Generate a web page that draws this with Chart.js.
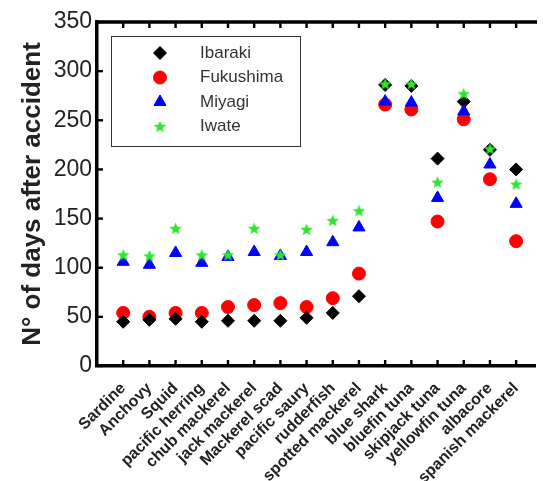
<!DOCTYPE html>
<html>
<head>
<meta charset="utf-8">
<script src="https://cdn.jsdelivr.net/npm/chart.js@4.4.1/dist/chart.umd.min.js"></script>
<style>
  html, body { margin: 0; padding: 0; background: #fff; overflow: hidden; }
</style>
</head>
<body>
<canvas id="daysChart" width="543" height="481"></canvas>
<script>
// species on the x axis
const species = ['Sardine', 'Anchovy', 'Squid', 'pacific herring', 'chub mackerel', 'jack mackerel',
  'Mackerel scad', 'pacific saury', 'rudderfish', 'spotted mackerel', 'blue shark', 'bluefin tuna',
  'skipjack tuna', 'yellowfin tuna', 'albacore', 'spanish mackerel'];

// N° of days after accident, per prefecture
const ibaraki   = [45, 47, 48, 45, 46, 46, 46, 49, 54, 71, 286, 285, 211, 269, 220, 200];
const fukushima = [54, 50, 54, 54, 60, 62, 64, 60, 69, 94, 266, 261, 147, 251, 190, 127];
const miyagi    = [106, 103, 115, 105, 111, 116, 112, 116, 126, 141, 269, 268, 171, 259, 205, 165];
const iwate     = [113, 112, 140, 113, 113, 140, 113, 139, 148, 158, 287, 287, 187, 277, 221, 185];

const yTicks = [0, 50, 100, 150, 200, 250, 300, 350];

function toPoints(values) {
  return values.map((v, i) => ({ x: i + 1, y: v }));
}

// small filled 5-point star for Iwate
function makeStar(color, size) {
  const c = document.createElement('canvas');
  c.width = size; c.height = size;
  const g = c.getContext('2d');
  g.fillStyle = color;
  g.beginPath();
  for (let k = 0; k < 10; k++) {
    const r = k % 2 ? size * 0.22 : size * 0.5;
    const a = -Math.PI / 2 + k * Math.PI / 5;
    const px = size / 2 + r * Math.cos(a);
    const py = size / 2 + 0.5 + r * Math.sin(a);
    if (k === 0) g.moveTo(px, py); else g.lineTo(px, py);
  }
  g.closePath();
  g.fill();
  return c;
}
const greenStar = makeStar('#2ee62e', 13);

// top border, inward tick marks and the boxed legend
const frameAndLegend = {
  id: 'frameAndLegend',
  afterDraw(chart) {
    const ctx = chart.ctx;
    const area = chart.chartArea;
    const xs = chart.scales.x, ys = chart.scales.y;

    ctx.save();
    ctx.fillStyle = '#000';
    ctx.fillRect(area.left - 2, area.top - 1.75, area.right - area.left + 4, 3.5);
    ys.ticks.forEach(t => {
      const py = ys.getPixelForValue(t.value);
      ctx.fillRect(area.left, py - 1.2, 6, 2.4);
    });
    xs.ticks.forEach(t => {
      const px = xs.getPixelForValue(t.value);
      ctx.fillRect(px - 1.2, area.bottom - 6, 2.4, 6);
      ctx.fillRect(px - 1.2, area.top, 2.4, 6);
    });
    ctx.restore();

    // legend
    const left = area.left + 14, top = area.top + 14;
    const w = 189, h = 110;
    ctx.save();
    ctx.fillStyle = '#fff';
    ctx.fillRect(left, top, w, h);
    ctx.strokeStyle = '#333';
    ctx.lineWidth = 1;
    ctx.strokeRect(left + 0.5, top + 0.5, w, h);
    ctx.font = '17px "Liberation Sans", Arial, sans-serif';
    ctx.textBaseline = 'middle';
    chart.data.datasets.forEach((ds, i) => {
      const cy = top + 17 + i * 24.5;
      ctx.fillStyle = ds.backgroundColor;
      ctx.strokeStyle = ds.borderColor;
      ctx.lineWidth = 1;
      Chart.helpers.drawPoint(ctx, {
        pointStyle: ds.pointStyle, radius: ds.pointRadius, rotation: 0, borderWidth: 1
      }, left + 49, cy);
      ctx.fillStyle = '#333';
      ctx.fillText(ds.label, left + 89, cy);
    });
    ctx.restore();
  }
};

const ctx = document.getElementById('daysChart').getContext('2d');
const daysChart = new Chart(ctx, {
  type: 'scatter',
  data: {
    datasets: [
      { label: 'Ibaraki', data: toPoints(ibaraki), pointStyle: 'rectRot', pointRadius: 6.5,
        backgroundColor: '#000', borderColor: '#000', borderWidth: 1, order: 2 },
      { label: 'Fukushima', data: toPoints(fukushima), pointStyle: 'circle', pointRadius: 6.5,
        backgroundColor: '#ff0000', borderColor: '#ff0000', borderWidth: 1, order: 3 },
      { label: 'Miyagi', data: toPoints(miyagi), pointStyle: 'triangle', pointRadius: 7,
        backgroundColor: '#0000ff', borderColor: '#0000ff', borderWidth: 1, order: 1 },
      { label: 'Iwate', data: toPoints(iwate), pointStyle: greenStar, pointRadius: 6,
        backgroundColor: '#2ee62e', borderColor: '#2ee62e', borderWidth: 1, order: 0 }
    ]
  },
  options: {
    responsive: false,
    animation: false,
    events: [],
    layout: { padding: { top: 22, left: 0, right: 0, bottom: 0 } },
    plugins: {
      legend: { display: false },
      tooltip: { enabled: false }
    },
    scales: {
      x: {
        type: 'linear',
        min: 0,
        max: 16.72,
        afterBuildTicks: function(scale) {
          scale.ticks = species.map((s, i) => ({ value: i + 1 }));
        },
        afterFit: function(scale) {
          scale.height = 115;
          scale.paddingLeft = 0;
          scale.paddingRight = 0;
        },
        ticks: {
          autoSkip: false,
          minRotation: 45,
          maxRotation: 45,
          padding: 13,
          color: '#222',
          font: { family: '"Liberation Sans", Arial, sans-serif', size: 16, weight: 'bold' },
          callback: function(value) { return species[value - 1] || ''; }
        },
        grid: { display: false, drawTicks: false },
        border: { display: true, width: 3.5, color: '#000' }
      },
      y: {
        min: 0,
        max: 350,
        afterBuildTicks: function(scale) {
          scale.ticks = yTicks.map(v => ({ value: v }));
        },
        afterFit: function(scale) { scale.width = 97; },
        ticks: {
          padding: 5,
          color: '#222',
          font: { family: '"Liberation Sans", Arial, sans-serif', size: 23 }
        },
        grid: { display: false, drawTicks: false },
        border: { display: true, width: 3.5, color: '#000' },
        title: {
          display: true,
          text: 'N° of days after accident',
          color: '#222',
          font: { family: '"Liberation Sans", Arial, sans-serif', size: 26, weight: 'bold' },
          padding: { top: 17, bottom: 0 }
        }
      }
    }
  },
  plugins: [frameAndLegend]
});
</script>
</body>
</html>
